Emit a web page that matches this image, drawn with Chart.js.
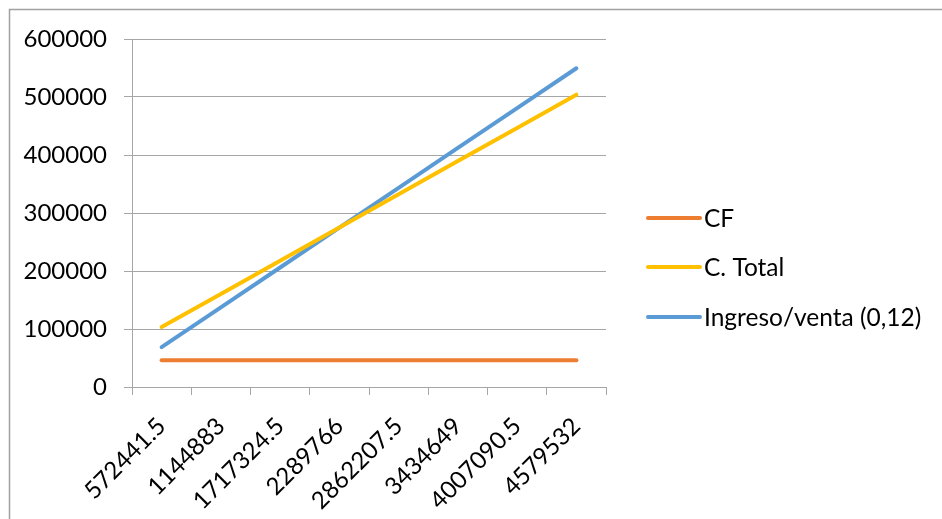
<!DOCTYPE html>
<html>
<head>
<meta charset="utf-8">
<script src="https://cdn.jsdelivr.net/npm/chart.js@4/dist/chart.umd.min.js"></script>
<style>
html,body{margin:0;padding:0;background:#fff;}
#wrap{position:relative;width:942px;height:519px;}
</style>
</head>
<body>
<div id="wrap"><canvas id="c" width="942" height="519"></canvas></div>
<script>
const categories = ['572441.5','1144883','1717324.5','2289766','2862207.5','3434649','4007090.5','4579532'];
const cfValues = [46000,46000,46000,46000,46000,46000,46000,46000];
const totalValues = [103244,160488,217732,274977,332221,389465,446709,503953];
const ingresoValues = [68693,137386,206079,274772,343465,412158,480851,549544];
const seriesNames = ['CF','C. Total','Ingreso/venta (0,12)'];
const seriesColors = ['#ED7D31','#FFC000','#5B9BD5'];
const yTicks = [0,100000,200000,300000,400000,500000,600000];

const FONT = 'Lato';
const GRID = '#a6a6a6';

const frame = {
  id:'frame',
  beforeDraw(chart){
    const ctx = chart.ctx;
    ctx.save();
    ctx.fillStyle = '#fff';
    ctx.fillRect(0,0,chart.width,chart.height);
    ctx.strokeStyle = '#a0a0a0';
    ctx.lineWidth = 1.5;
    ctx.beginPath();
    ctx.moveTo(9.5, chart.height);
    ctx.lineTo(9.5, 9.5);
    ctx.lineTo(chart.width, 9.5);
    ctx.stroke();
    ctx.restore();
  }
};

const customLegend = {
  id:'customLegend',
  afterDraw(chart){
    const ctx = chart.ctx;
    const rows = [218, 267, 317];
    ctx.save();
    ctx.font = '24.5px ' + FONT;
    ctx.textBaseline = 'middle';
    ctx.textAlign = 'left';
    chart.data.datasets.forEach((ds, i) => {
      ctx.strokeStyle = ds.borderColor;
      ctx.lineWidth = 4;
      ctx.lineCap = 'round';
      ctx.beginPath();
      ctx.moveTo(648, rows[i]);
      ctx.lineTo(700, rows[i]);
      ctx.stroke();
      ctx.fillStyle = '#000';
      ctx.fillText(ds.label, 704, rows[i] + 1);
    });
    ctx.restore();
  }
};

const mk = (i, data) => ({
  label: seriesNames[i],
  data: data,
  borderColor: seriesColors[i],
  backgroundColor: seriesColors[i],
  borderWidth: 4,
  borderCapStyle: 'round',
  pointRadius: 0,
  pointHoverRadius: 0,
  tension: 0,
  fill: false
});

new Chart(document.getElementById('c'), {
  type: 'line',
  data: {
    labels: categories,
    datasets: [mk(0, cfValues), mk(1, totalValues), mk(2, ingresoValues)]
  },
  plugins: [frame, customLegend],
  options: {
    responsive: false,
    animation: false,
    events: [],
    layout: { padding: { left: 10, top: 39, right: 336, bottom: 0 } },
    plugins: { legend: { display: false }, tooltip: { enabled: false } },
    scales: {
      x: {
        offset: true,
        afterFit(scale){ scale.height = 132; },
        grid: { offset: true, drawOnChartArea: false, drawTicks: true, tickLength: 8, color: GRID, lineWidth: 1 },
        border: { display: true, color: GRID, width: 1 },
        ticks: {
          autoSkip: false, maxRotation: 45, minRotation: 45, padding: 17,
          color: '#000', font: { family: FONT, size: 24 }
        }
      },
      y: {
        min: 0, max: 600000,
        afterFit(scale){ scale.width = 122; },
        afterBuildTicks(scale){ scale.ticks = yTicks.map(v => ({ value: v })); },
        grid: { drawTicks: true, tickLength: 8, color: GRID, lineWidth: 1 },
        border: { display: true, color: GRID, width: 1 },
        ticks: {
          padding: 17, color: '#000', font: { family: FONT, size: 24 },
          callback: (v) => String(v)
        }
      }
    }
  }
});
</script>
</body>
</html>
